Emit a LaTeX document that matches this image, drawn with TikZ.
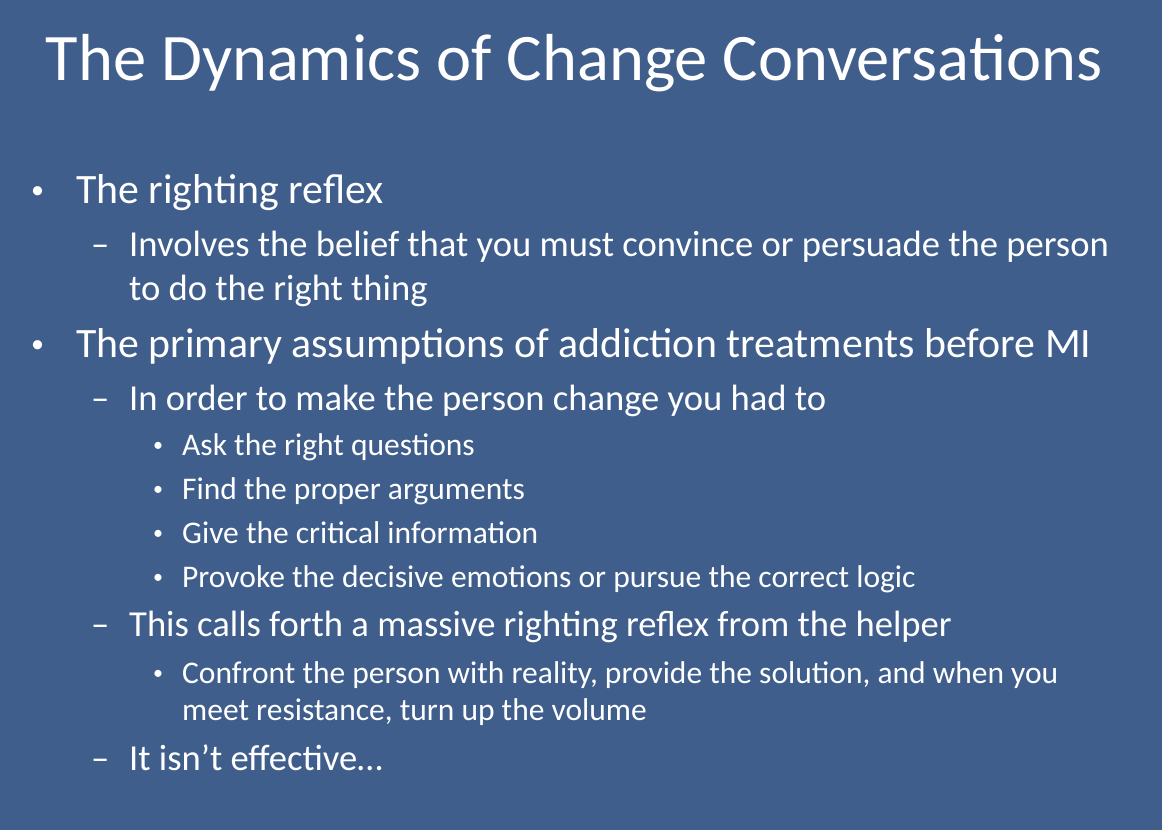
\documentclass[tikz,border=0pt]{standalone}
\usepackage{fontspec}
\setmainfont{Carlito}
\definecolor{bg}{RGB}{63,94,140}
\begin{document}
\begin{tikzpicture}[x=1pt,y=-1pt,
  t/.style={anchor=base west,inner sep=0pt,text=white,align=left},
  la/.style={t,font=\fontsize{41.8}{44}\selectfont},
  lb/.style={t,font=\fontsize{36.6}{44}\selectfont},
  lc/.style={t,font=\fontsize{31.5}{37}\selectfont},
  bu/.style={t,font=\fontsize{26}{30}\selectfont}]
\fill[bg] (0,0) rectangle (1162,830);
\useasboundingbox (0,0) rectangle (1162,830);
\node[t,anchor=base,font=\fontsize{66.5}{70}\selectfont] (title) at (574,80) {The Dynamics of Change Conversations};
\node[bu] (b1) at (31,198) {•};
\node[la] (t1) at (76,203) {The righting reflex};
\node[lb] (d1) at (91,256) {–};
\node[lb] (t2) at (129,256) {Involves the belief that you must convince or persuade the person};
\node[lb] (t2b) at (129,300) {to do the right thing};
\node[bu] (b2) at (31,352) {•};
\node[la] (t3) at (76,357) {The primary assumptions of addiction treatments before MI};
\node[lb] (d2) at (91,410) {–};
\node[lb] (t4) at (129,410) {In order to make the person change you had to};
\node[t,font=\fontsize{20}{24}\selectfont] (c1) at (153,451) {•};
\node[lc] (t5) at (182,455) {Ask the right questions};
\node[t,font=\fontsize{20}{24}\selectfont] (c2) at (153,495) {•};
\node[lc] (t6) at (182,499) {Find the proper arguments};
\node[t,font=\fontsize{20}{24}\selectfont] (c3) at (153,539) {•};
\node[lc] (t7) at (182,543) {Give the critical information};
\node[t,font=\fontsize{20}{24}\selectfont] (c4) at (153,583) {•};
\node[lc] (t8) at (182,587) {Provoke the decisive emotions or pursue the correct logic};
\node[lb] (d3) at (91,636) {–};
\node[lb] (t9) at (129,636) {This calls forth a massive righting reflex from the helper};
\node[t,font=\fontsize{20}{24}\selectfont] (c5) at (153,679) {•};
\node[lc] (t10) at (182,683) {Confront the person with reality, provide the solution, and when you};
\node[lc] (t10b) at (182,720) {meet resistance, turn up the volume};
\node[lb] (d4) at (91,770) {–};
\node[lb] (t11) at (129,770) {It isn’t effective…};
\end{tikzpicture}
\end{document}
